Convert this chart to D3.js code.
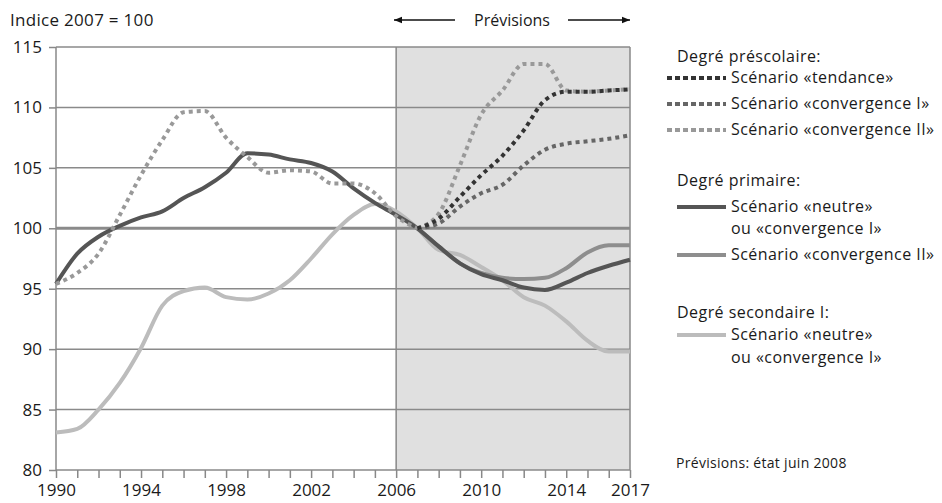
<!DOCTYPE html>
<html>
<head>
<meta charset="utf-8">
<script src="https://cdn.jsdelivr.net/npm/d3@7"></script>
<style>
  body { margin: 0; background: #fff; }
  svg text { font-family: "Open Sans", sans-serif; fill: #1a1a1a; }
</style>
</head>
<body>
<div id="chart"></div>
<script>
// years on the x axis
var years = d3.range(1990, 2018);
var yearLabels = [1990, 1994, 1998, 2002, 2006, 2010, 2014, 2017];
var yTicks = [80, 85, 90, 95, 100, 105, 110, 115];

// forecast years
var forecastYears = d3.range(2007, 2018);

// degré primaire, scénario neutre / convergence I (1990-2017)
var primaireNeutre = [95.4, 97.9, 99.3, 100.2, 100.9, 101.4, 102.5, 103.4, 104.6, 106.2,
  106.1, 105.7, 105.4, 104.7, 103.3, 102.1, 101.1, 100.0, 98.5, 97.1,
  96.2, 95.7, 95.1, 94.9, 95.5, 96.3, 96.9, 97.4];
// degré primaire, scénario convergence II (2007-2017)
var primaireConvII = [100.0, 98.5, 97.1, 96.3, 95.9, 95.8, 95.9, 96.7, 98.0, 98.6, 98.6];
// degré secondaire I (1990-2017)
var secondaire = [83.1, 83.4, 85.0, 87.2, 90.1, 93.6, 94.8, 95.1, 94.3, 94.1,
  94.6, 95.7, 97.5, 99.5, 101.1, 102.0, 101.4, 100.0, 98.2, 97.8,
  96.8, 95.7, 94.3, 93.6, 92.3, 90.7, 89.8, 89.8];
// degré préscolaire, historique (1990-2007)
var prescolaireHist = [95.4, 96.3, 97.9, 101.1, 104.4, 107.3, 109.6, 109.7, 107.5, 105.9,
  104.6, 104.8, 104.7, 103.7, 103.7, 102.9, 101.0, 100.0];
// degré préscolaire, prévisions (2007-2017)
var prescolaireTendance = [100.0, 100.8, 102.6, 104.4, 106.0, 108.1, 110.6, 111.3, 111.3, 111.4, 111.5];
var prescolaireConvI = [100.0, 100.4, 101.8, 102.9, 103.6, 105.2, 106.5, 107.0, 107.2, 107.4, 107.7];
var prescolaireConvII = [100.0, 101.2, 105.2, 109.4, 111.4, 113.6, 113.6, 111.4, 111.3, 111.4, 111.5];

var W = 942, H = 503;
var margin = {top: 47, left: 56},
    width = 574,
    height = 423;

var svg = d3.select("#chart").append("svg")
  .attr("width", W).attr("height", H);

var x = d3.scaleLinear().domain([1990, 2017]).range([margin.left, margin.left + width]);
var y = d3.scaleLinear().domain([80, 115]).range([margin.top + height, margin.top]);

// forecast shading
svg.append("rect")
  .attr("x", x(2006)).attr("y", y(115))
  .attr("width", x(2017) - x(2006)).attr("height", y(80) - y(115))
  .attr("fill", "#e0e0e0");

// y axis
var gy = svg.append("g")
  .attr("transform", "translate(" + margin.left + ",0)")
  .call(d3.axisLeft(y).tickValues(yTicks).tickSize(7).tickPadding(7));
gy.select(".domain").remove();
gy.selectAll(".tick line").attr("stroke", "#888").attr("stroke-width", 1.5);
gy.selectAll(".tick text").attr("font-size", 17).attr("fill", "#1a1a1a");

// horizontal grid, 100 thicker
svg.append("g").selectAll("line")
  .data(yTicks).enter().append("line")
  .attr("x1", x(1990)).attr("x2", x(2017))
  .attr("y1", function(d) { return y(d); })
  .attr("y2", function(d) { return y(d); })
  .attr("stroke", "#8a8a8a")
  .attr("stroke-width", function(d) { return d === 100 ? 3 : 1.5; });

// vertical borders
[1990, 2006, 2017].forEach(function(v) {
  svg.append("line")
    .attr("x1", x(v)).attr("x2", x(v))
    .attr("y1", y(115)).attr("y2", y(80))
    .attr("stroke", "#888").attr("stroke-width", 1.5);
});

// x axis
var gx = svg.append("g")
  .attr("transform", "translate(0," + y(80) + ")")
  .call(d3.axisBottom(x).tickValues(years).tickSize(8).tickPadding(6)
    .tickFormat(function(d) { return yearLabels.indexOf(d) >= 0 ? d : ""; }));
gx.select(".domain").remove();
gx.selectAll(".tick line").attr("stroke", "#888").attr("stroke-width", 1.5);
gx.selectAll(".tick text").attr("font-size", 17).attr("fill", "#1a1a1a");

// lines
var line = d3.line()
  .x(function(d) { return x(d[0]); })
  .y(function(d) { return y(d[1]); })
  .curve(d3.curveMonotoneX);

function pairs(xs, vs) { return xs.map(function(v, i) { return [v, vs[i]]; }); }

var series = [
  {data: pairs(years, secondaire), color: "#bcbcbc", dash: null},
  {data: pairs(forecastYears, primaireConvII), color: "#8e8e8e", dash: null},
  {data: pairs(years, primaireNeutre), color: "#555", dash: null},
  {data: pairs(d3.range(1990, 2008), prescolaireHist), color: "#999", dash: "4,4"},
  {data: pairs(forecastYears, prescolaireConvI), color: "#666", dash: "4,4"},
  {data: pairs(forecastYears, prescolaireConvII), color: "#999", dash: "4,4"},
  {data: pairs(forecastYears, prescolaireTendance), color: "#333", dash: "4,4"}
];

svg.append("g").selectAll("path")
  .data(series).enter().append("path")
  .attr("d", function(d) { return line(d.data); })
  .attr("fill", "none")
  .attr("stroke", function(d) { return d.color; })
  .attr("stroke-width", 4)
  .attr("stroke-dasharray", function(d) { return d.dash; });

// top texts
svg.append("text").attr("x", 10).attr("y", 26).attr("font-size", 17)
  .attr("letter-spacing", 0.3).text("Indice 2007 = 100");
svg.append("text").attr("x", 512).attr("y", 26).attr("font-size", 16)
  .attr("text-anchor", "middle").text("Prévisions");

var defs = svg.append("defs");
defs.append("marker").attr("id", "arr").attr("viewBox", "0 0 10 10")
  .attr("refX", 10).attr("refY", 5).attr("markerWidth", 9).attr("markerHeight", 8)
  .attr("markerUnits", "userSpaceOnUse").attr("orient", "auto")
  .append("path").attr("d", "M0,1 L10,5 L0,9 Z").attr("fill", "#111");
svg.append("line").attr("x1", 455).attr("x2", 394).attr("y1", 20).attr("y2", 20)
  .attr("stroke", "#111").attr("stroke-width", 1.5).attr("marker-end", "url(#arr)");
svg.append("line").attr("x1", 568).attr("x2", 630).attr("y1", 20).attr("y2", 20)
  .attr("stroke", "#111").attr("stroke-width", 1.5).attr("marker-end", "url(#arr)");

// legend
var lg = svg.append("g").attr("font-size", 16).attr("letter-spacing", 0.45);
function head(t, yy) { lg.append("text").attr("x", 677).attr("y", yy).text(t); }
function item(t, yy, color, dash, x1) {
  lg.append("line").attr("x1", x1).attr("x2", 726).attr("y1", yy - 5).attr("y2", yy - 5)
    .attr("stroke", color).attr("stroke-width", 4).attr("stroke-dasharray", dash);
  lg.append("text").attr("x", 731).attr("y", yy).text(t);
}
head("Degré préscolaire:", 62);
item("Scénario «tendance»", 83, "#333", "5,3", 667);
item("Scénario «convergence I»", 109, "#666", "5,3", 667);
item("Scénario «convergence II»", 135, "#999", "5,3", 667);
head("Degré primaire:", 186);
item("Scénario «neutre»", 212, "#555", null, 677);
lg.append("text").attr("x", 731).attr("y", 234).text("ou «convergence I»");
item("Scénario «convergence II»", 260, "#8e8e8e", null, 677);
head("Degré secondaire I:", 318);
item("Scénario «neutre»", 340, "#bcbcbc", null, 677);
lg.append("text").attr("x", 731).attr("y", 363).text("ou «convergence I»");
svg.append("text").attr("x", 676).attr("y", 468).attr("font-size", 14)
  .attr("letter-spacing", 0.3).text("Prévisions: état juin 2008");
</script>
</body>
</html>
